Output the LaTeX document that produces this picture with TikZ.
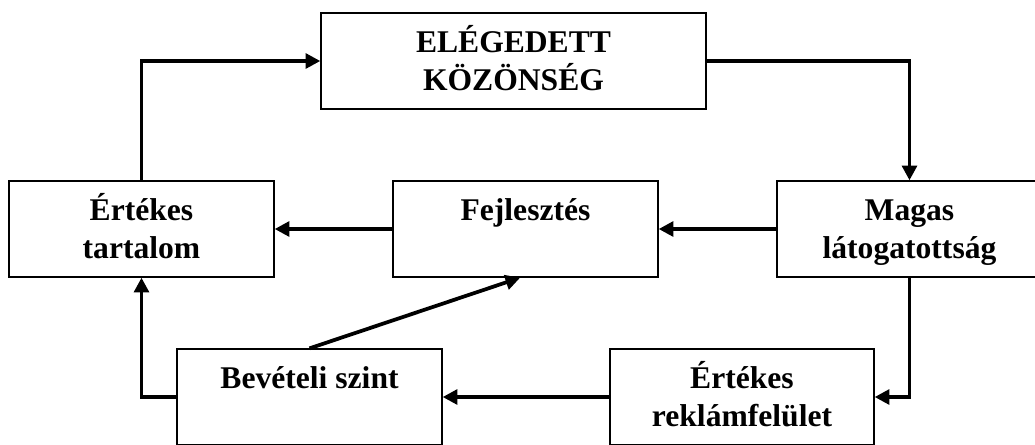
\documentclass[tikz,border=0pt]{standalone}
\usepackage{fontspec}
\setmainfont{Liberation Serif}
\usetikzlibrary{arrows.meta,positioning}
\tikzset{
  blokk/.style={rectangle,draw=black,line width=1pt,minimum width=198.75pt,minimum height=72pt,inner sep=0pt},
  felirat/.style={anchor=base,yshift=-30.4pt,align=center,inner sep=0pt,font=\bfseries\fontsize{23.7}{28.5}\selectfont},
  felirat2/.style={felirat,yshift=-28.5pt},
  nyil/.style={-{Triangle[length=11pt,width=11pt]},line width=2.8pt}
}

\begin{document}
\begin{tikzpicture}[x=0.75pt,y=-0.75pt]
\clip (0,0) rectangle (1035,444);
% \draw[help lines] (0,0) grid (1035,444);
\node (kozonseg) [blokk,minimum width=288.75pt,label={[felirat2]north:ELÉGEDETT\\KÖZÖNSÉG}] at (513.5,61) {};
\node (tartalom) [blokk,label={[felirat2]north:Értékes\\tartalom}] at (141.5,229) {};
\node (fejl) [blokk,label={[felirat]north:Fejlesztés}] at (525.5,229) {};
\node (latog) [blokk,label={[felirat2]north:Magas\\látogatottság}] at (909.5,229) {};
\node (bevetel) [blokk,label={[felirat]north:Bevételi szint}] at (309.5,397) {};
\node (reklam) [blokk,minimum width=198pt,label={[felirat2]north:Értékes\\reklámfelület}] at (742,397) {};
%
\draw[nyil] (tartalom.north) |- (kozonseg.west);
\draw[nyil] (kozonseg.east) -| (latog.north);
\draw[nyil] (latog.west) -- (fejl.east);
\draw[nyil] (fejl.west) -- (tartalom.east);
\draw[nyil] (latog.south) |- (reklam.east);
\draw[nyil] (reklam.west) -- (bevetel.east);
\draw[nyil] (bevetel.west) -| (tartalom.south);
\draw[nyil] (bevetel.north) -- ([xshift=-4pt]fejl.south);
%
\end{tikzpicture}
\end{document}
